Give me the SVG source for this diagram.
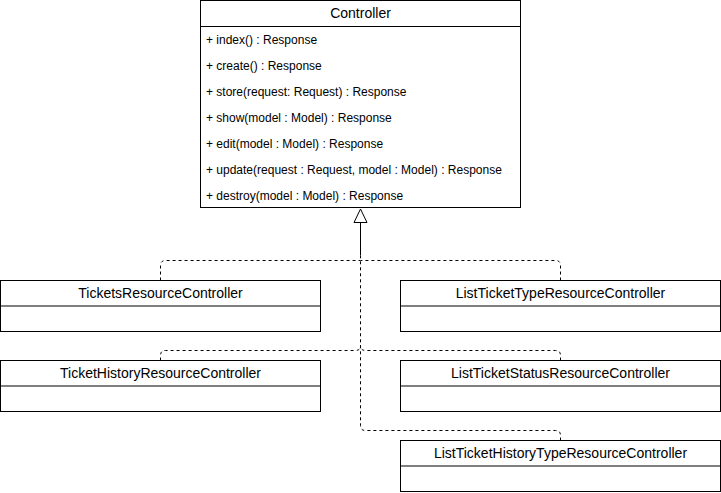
<svg xmlns="http://www.w3.org/2000/svg" width="721" height="493" viewBox="0 0 721 493">
<style>
.box{fill:#fff;stroke:#000;stroke-width:1}
.div{stroke:#000;stroke-width:1}
.hd{font-family:"Liberation Sans",Arial,sans-serif;font-size:14px;fill:#000;text-anchor:middle}
.m{font-family:"Liberation Sans",Arial,sans-serif;font-size:12px;fill:#000}
.dash{fill:none;stroke:#000;stroke-width:1;stroke-dasharray:3 3}
</style>
<rect width="721" height="493" fill="#fff"/>
<g id="connectors">
<path class="dash" d="M160.5,280.5 V265.5 Q160.5,260.5 165.5,260.5 H360.5"/>
<path class="dash" d="M560.5,280.5 V265.5 Q560.5,260.5 555.5,260.5 H360.5"/>
<path class="dash" d="M160.5,360.5 V355.5 Q160.5,350.5 165.5,350.5 H355.5 Q360.5,350.5 360.5,345.5"/>
<path class="dash" d="M560.5,360.5 V355.5 Q560.5,350.5 555.5,350.5 H365.5 Q360.5,350.5 360.5,345.5"/>
<path class="dash" d="M560.5,440.5 V435.5 Q560.5,430.5 555.5,430.5 H365.5 Q360.5,430.5 360.5,425.5 V255"/>
<path fill="none" stroke="#000" stroke-width="1" d="M360.5,222 V255"/>
<path fill="#fff" stroke="#000" stroke-width="1" d="M360.5,209 L367,222.5 L354,222.5 Z"/>
</g>
<g id="controller">
<rect class="box" x="200.5" y="0.5" width="320" height="207"/>
<line class="div" x1="200.5" y1="26.5" x2="520.5" y2="26.5"/>
<text class="hd" x="360.5" y="18">Controller</text>
<text class="m" x="206" y="44">+ index() : Response</text>
<text class="m" x="206" y="70">+ create() : Response</text>
<text class="m" x="206" y="96">+ store(request: Request) : Response</text>
<text class="m" x="206" y="122">+ show(model : Model) : Response</text>
<text class="m" x="206" y="148">+ edit(model : Model) : Response</text>
<text class="m" x="206" y="174">+ update(request : Request, model : Model) : Response</text>
<text class="m" x="206" y="200">+ destroy(model : Model) : Response</text>
</g>
<g id="tickets">
<rect class="box" x="0.5" y="280.5" width="320" height="51"/>
<line class="div" x1="0.5" y1="306" x2="320.5" y2="306"/>
<text class="hd" x="160.5" y="298">TicketsResourceController</text>
</g>
<g id="listTicketType">
<rect class="box" x="400.5" y="280.5" width="320" height="51"/>
<line class="div" x1="400.5" y1="306" x2="720.5" y2="306"/>
<text class="hd" x="560.5" y="298">ListTicketTypeResourceController</text>
</g>
<g id="ticketHistory">
<rect class="box" x="0.5" y="360.5" width="320" height="51"/>
<line class="div" x1="0.5" y1="386" x2="320.5" y2="386"/>
<text class="hd" x="160.5" y="378">TicketHistoryResourceController</text>
</g>
<g id="listTicketStatus">
<rect class="box" x="400.5" y="360.5" width="320" height="51"/>
<line class="div" x1="400.5" y1="386" x2="720.5" y2="386"/>
<text class="hd" x="560.5" y="378">ListTicketStatusResourceController</text>
</g>
<g id="listTicketHistoryType">
<rect class="box" x="400.5" y="440.5" width="320" height="51"/>
<line class="div" x1="400.5" y1="466" x2="720.5" y2="466"/>
<text class="hd" x="560.5" y="458">ListTicketHistoryTypeResourceController</text>
</g>
</svg>
